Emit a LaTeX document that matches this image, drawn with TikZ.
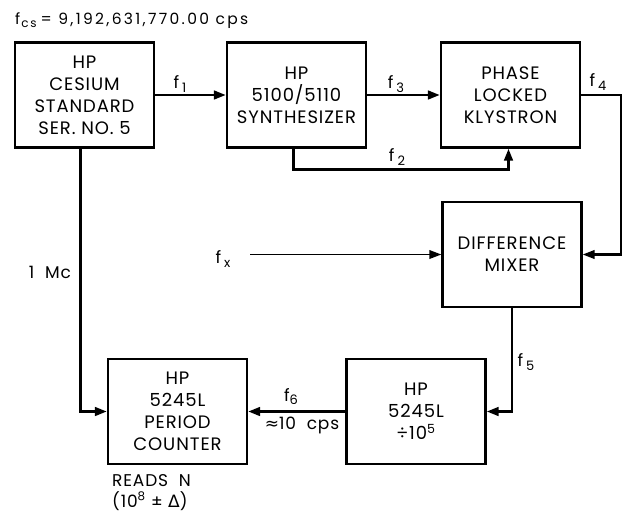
\documentclass[tikz,border=0pt]{standalone}
\usepackage{fontspec}
\setmainfont{Poppins}[LetterSpace=5]
\newfontfamily\symfont{DejaVu Sans}
\usetikzlibrary{arrows.meta,calc}
\newcommand{\fsub}[1]{f\kern3pt\raisebox{-4pt}{\fontsize{13}{13}\selectfont #1}}
\begin{document}
\begin{tikzpicture}[x=1pt,y=-1pt,
  box/.style={draw, line width=2.2pt, minimum width=139pt, minimum height=105pt, align=center, font=\fontsize{18}{22}\selectfont, inner sep=0pt},
  conn/.style={line width=2.8pt, -{Triangle[length=12pt,width=8.5pt]}},
  lab/.style={font=\fontsize{17}{19}\selectfont, inner sep=0pt}]
\useasboundingbox (0,0) rectangle (623,515);
\node[box] (ces) at (84.5,95) {HP\\CESIUM\\STANDARD\\SER. NO. 5};
\node[box] (syn) at (296.5,95) {HP\\5100/5110\\SYNTHESIZER};
\node[box] (kly) at (510.5,95) {PHASE\\LOCKED\\KLYSTRON};
\node[box] (mix) at (512,254.5) {DIFFERENCE\\MIXER};
\node[box] (div) at (416,411.5) {HP\\5245L\\÷10\textsuperscript{5}};
\node[box] (cnt) at (177.5,411.5) {HP\\5245L\\PERIOD\\COUNTER};
\coordinate (c4) at (621,95);
\coordinate (cx) at (250,254.5);
\draw[conn] (ces.east) -- (syn.west);
\draw[conn] (syn.east) -- (kly.west);
\draw[conn] ([xshift=-3pt]syn.south) -- ++(0,21) -| ([xshift=-2pt]kly.south);
\draw[conn,line width=2.3pt] (kly.east) -- (c4) |- (mix.east);
\draw[conn,line width=1.9pt] (cx) -- (mix.west);
\draw[conn] (mix.south) |- (div.east);
\draw[conn] (div.west) -- (cnt.east);
\draw[conn] ([xshift=-4pt]ces.south) |- (cnt.west);
\node[lab,anchor=base west,font=\fontsize{15.5}{17}\selectfont\addfontfeature{LetterSpace=15}] (fcs) at (15,24) {f\kern1pt\raisebox{-3pt}{\fontsize{12}{12}\selectfont cs}\kern4pt= 9,192,631,770.00 cps};
\node[lab] (f1) at (180,84) {\fsub{1}};
\node[lab] (f3) at (396,84) {\fsub{3}};
\node[lab] (f2) at (397,157) {\fsub{2}};
\node[lab] (f4) at (598,82) {\fsub{4}};
\node[lab] (fx) at (223,259) {\fsub{x}};
\node[lab] (mc) at (50,272) {1\ \ Mc};
\node[lab] (f6) at (291,397) {f\raisebox{-3pt}{\fontsize{13}{13}\selectfont 6}};
\node[lab] (cps) at (302,425) {{\symfont ≈}10\ \ cps};
\node[lab] (f5) at (526,362) {\fsub{5}};
\node[lab,anchor=north west,align=left,font=\fontsize{17}{21}\selectfont] (rn) at (112,474) {READS\ \ N\\(10\textsuperscript{8} ± {\symfont Δ})};
\end{tikzpicture}
\end{document}
